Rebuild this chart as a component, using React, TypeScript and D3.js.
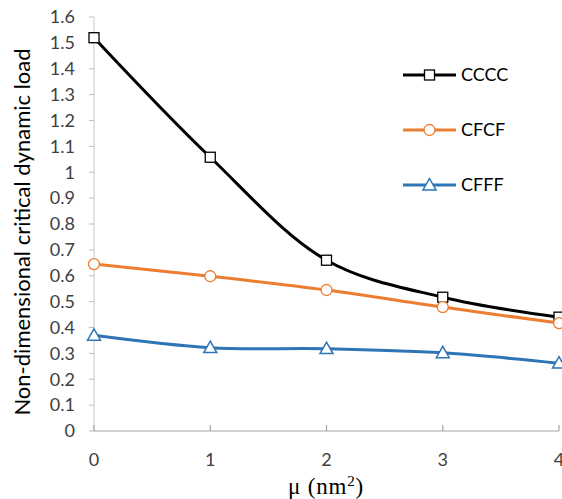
import React from "react";
import * as d3 from "d3";

const xValues = [0, 1, 2, 3, 4];
const cccc = [1.52, 1.058, 0.66, 0.517, 0.44];
const cfcf = [0.645, 0.598, 0.545, 0.479, 0.417];
const cfff = [0.37, 0.322, 0.318, 0.302, 0.262];
const yTicks = [0, 0.1, 0.2, 0.3, 0.4, 0.5, 0.6, 0.7, 0.8, 0.9, 1, 1.1, 1.2, 1.3, 1.4, 1.5, 1.6];
const xTicks = [0, 1, 2, 3, 4];
const seriesNames = ["CCCC", "CFCF", "CFFF"];

const W = 562, H = 499;
const x = d3.scaleLinear().domain([0, 4]).range([94, 559]);
const y = d3.scaleLinear().domain([0, 1.6]).range([431, 17]);
const font = "Lato, 'Open Sans', sans-serif";

const series = [
  { name: seriesNames[0], values: cccc, color: "#000000", marker: "square" },
  { name: seriesNames[1], values: cfcf, color: "#ED7D31", marker: "circle" },
  { name: seriesNames[2], values: cfff, color: "#2E75B6", marker: "triangle" },
];

function Marker({ type, cx, cy, color }: { type: string; cx: number; cy: number; color: string }) {
  if (type === "square") return <rect x={cx - 5} y={cy - 5} width={10} height={10} fill="#fff" stroke={color} strokeWidth={1.3} />;
  if (type === "circle") return <circle cx={cx} cy={cy} r={5.5} fill="#fff" stroke={color} strokeWidth={1.3} />;
  const s = 6.5;
  return <path d={`M${cx},${cy - s} L${cx + s},${cy + s * 0.75} L${cx - s},${cy + s * 0.75} Z`} fill="#fff" stroke={color} strokeWidth={1.5} />;
}

export default function App() {
  const line = d3.line<number>().x((_, i) => x(xValues[i])).y((d) => y(d)).curve(d3.curveCatmullRom.alpha(0.5));
  const legendY = [75, 130, 185];
  return (
    <svg width={W} height={H} style={{ position: "absolute", left: 0, top: 0, background: "#fff" }}>
      {/* y axis */}
      <line x1={94} x2={94} y1={y(1.6)} y2={431} stroke="#c8c8c8" strokeWidth={1} />
      {yTicks.map((t) => (
        <g key={t}>
          <line x1={89} x2={94} y1={y(t)} y2={y(t)} stroke="#bdbdbd" strokeWidth={1} />
          <text x={75} y={y(t)} dy="0.35em" textAnchor="end" fontFamily={font} fontSize={18} fill="#404040">{t}</text>
        </g>
      ))}
      {/* x axis */}
      <line x1={94} x2={559} y1={431} y2={431} stroke="#a6a6a6" strokeWidth={1.2} />
      {xTicks.map((t) => (
        <g key={t}>
          <line x1={x(t)} x2={x(t)} y1={425} y2={431} stroke="#a6a6a6" strokeWidth={1.2} />
          <text x={x(t)} y={460} dy="0.35em" textAnchor="middle" fontFamily={font} fontSize={18} fill="#404040">{t}</text>
        </g>
      ))}
      <text x={326} y={494} textAnchor="middle" fontFamily="'Liberation Serif', 'DejaVu Serif', serif" fontSize={23} letterSpacing={0.8} fill="#000">
        μ (nm<tspan dy={-8} fontSize={15}>2</tspan><tspan dy={8}>)</tspan>
      </text>
      <text transform={`translate(30,${232}) rotate(-90)`} textAnchor="middle" fontFamily={font} fontSize={22} fill="#000">
        Non-dimensional critical dynamic load
      </text>
      {series.map((s) => (
        <g key={s.name}>
          <path d={line(s.values) || ""} fill="none" stroke={s.color} strokeWidth={3} />
          {s.values.map((v, i) => (
            <Marker key={i} type={s.marker} cx={x(xValues[i])} cy={y(v)} color={s.color} />
          ))}
        </g>
      ))}
      {series.map((s, i) => (
        <g key={"lg" + s.name}>
          <line x1={403} x2={456} y1={legendY[i]} y2={legendY[i]} stroke={s.color} strokeWidth={3} />
          <Marker type={s.marker} cx={429.5} cy={legendY[i]} color={s.color} />
          <text x={461} y={legendY[i]} dy="0.35em" fontFamily={font} fontSize={18} fill="#000">{s.name}</text>
        </g>
      ))}
    </svg>
  );
}
